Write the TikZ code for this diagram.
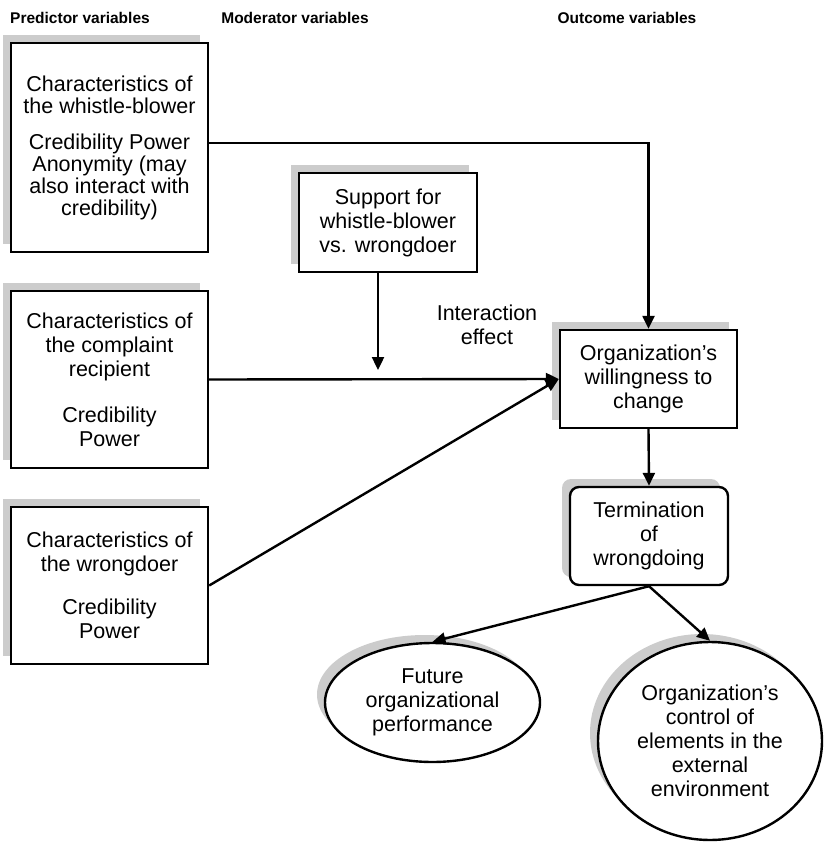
\documentclass[tikz,border=0pt]{standalone}
\usepackage{fontspec}
\setmainfont{Liberation Sans}
\usetikzlibrary{arrows.meta,%
                shapes.geometric,%
                shadows}

\begin{document}
\begin{tikzpicture}
  [x=1pt,y=-1pt,line width=2.4pt,
   every node/.style={align=center,font=\fontsize{21.5}{24}\selectfont},
   head/.style={font=\bfseries\fontsize{15.5}{18}\selectfont},
   shade/.style={drop shadow={shadow xshift=-8pt,shadow yshift=8pt,fill=black!20,opacity=1}},
   var/.style={draw,fill=white,shade,inner sep=0pt},
   result/.style={draw,fill=white,ellipse,shade,inner sep=0pt},
   arr/.style={-{Triangle[length=13pt,width=12pt]}}]
  \useasboundingbox (0,0) rectangle (834,843);
  % column heads
  \node[head] (hp) at (80,18) {Predictor variables};
  \node[head] (hm) at (295,18) {Moderator variables};
  \node[head] (ho) at (627,18) {Outcome variables};
  % predictors
  \node[var,minimum width=197pt,minimum height=209pt,font=\fontsize{21.5}{22}\selectfont] (wb) at (109.5,147.5)
    {Characteristics of\\the whistle-blower\\[14pt]Credibility Power\\Anonymity (may\\also interact with\\credibility)};
  \node[var,minimum width=197pt,minimum height=177pt] (rcp) at (109.5,379.5)
    {Characteristics of\\the complaint\\recipient\\[22pt]Credibility\\Power};
  \node[var,minimum width=197pt,minimum height=157pt] (wd) at (109.5,585.5)
    {Characteristics of\\the wrongdoer\\[19pt]Credibility\\Power};
  % moderator
  \node[var,minimum width=178pt,minimum height=99pt] (mod) at (388,222.5)
    {Support for\\whistle-blower\\vs. wrongdoer};
  \node (inter) at (487,325) {Interaction\\effect};
  % outcomes
  \node[var,minimum width=177pt,minimum height=98pt] (org) at (648.5,379)
    {Organization’s\\willingness to\\change};
  \node[var,rounded corners=9pt,minimum width=158pt,minimum height=98pt] (term) at (649,536)
    {Termination\\of\\wrongdoing};
  \node[result,minimum width=215pt,minimum height=119pt] (fut) at (432.5,702.5)
    {Future\\organizational\\performance};
  \node[result,minimum width=224pt,minimum height=198pt] (ctrl) at (710,741)
    {Organization’s\\control of\\elements in the\\external\\environment};
  % connectors
  \coordinate (ie) at (378,370);
  \draw[arr] ([yshift=4.5pt]wb.east) -| (org.north);
  \draw[arr] (mod.south -| ie) -- (ie);
  \foreach \from/\to in {rcp.east/org.west,wd.east/org.west,org.south/term.north,term.south/fut.north,term.south/ctrl.north}
    \draw[arr] (\from) -- (\to);
\end{tikzpicture}
\end{document}
